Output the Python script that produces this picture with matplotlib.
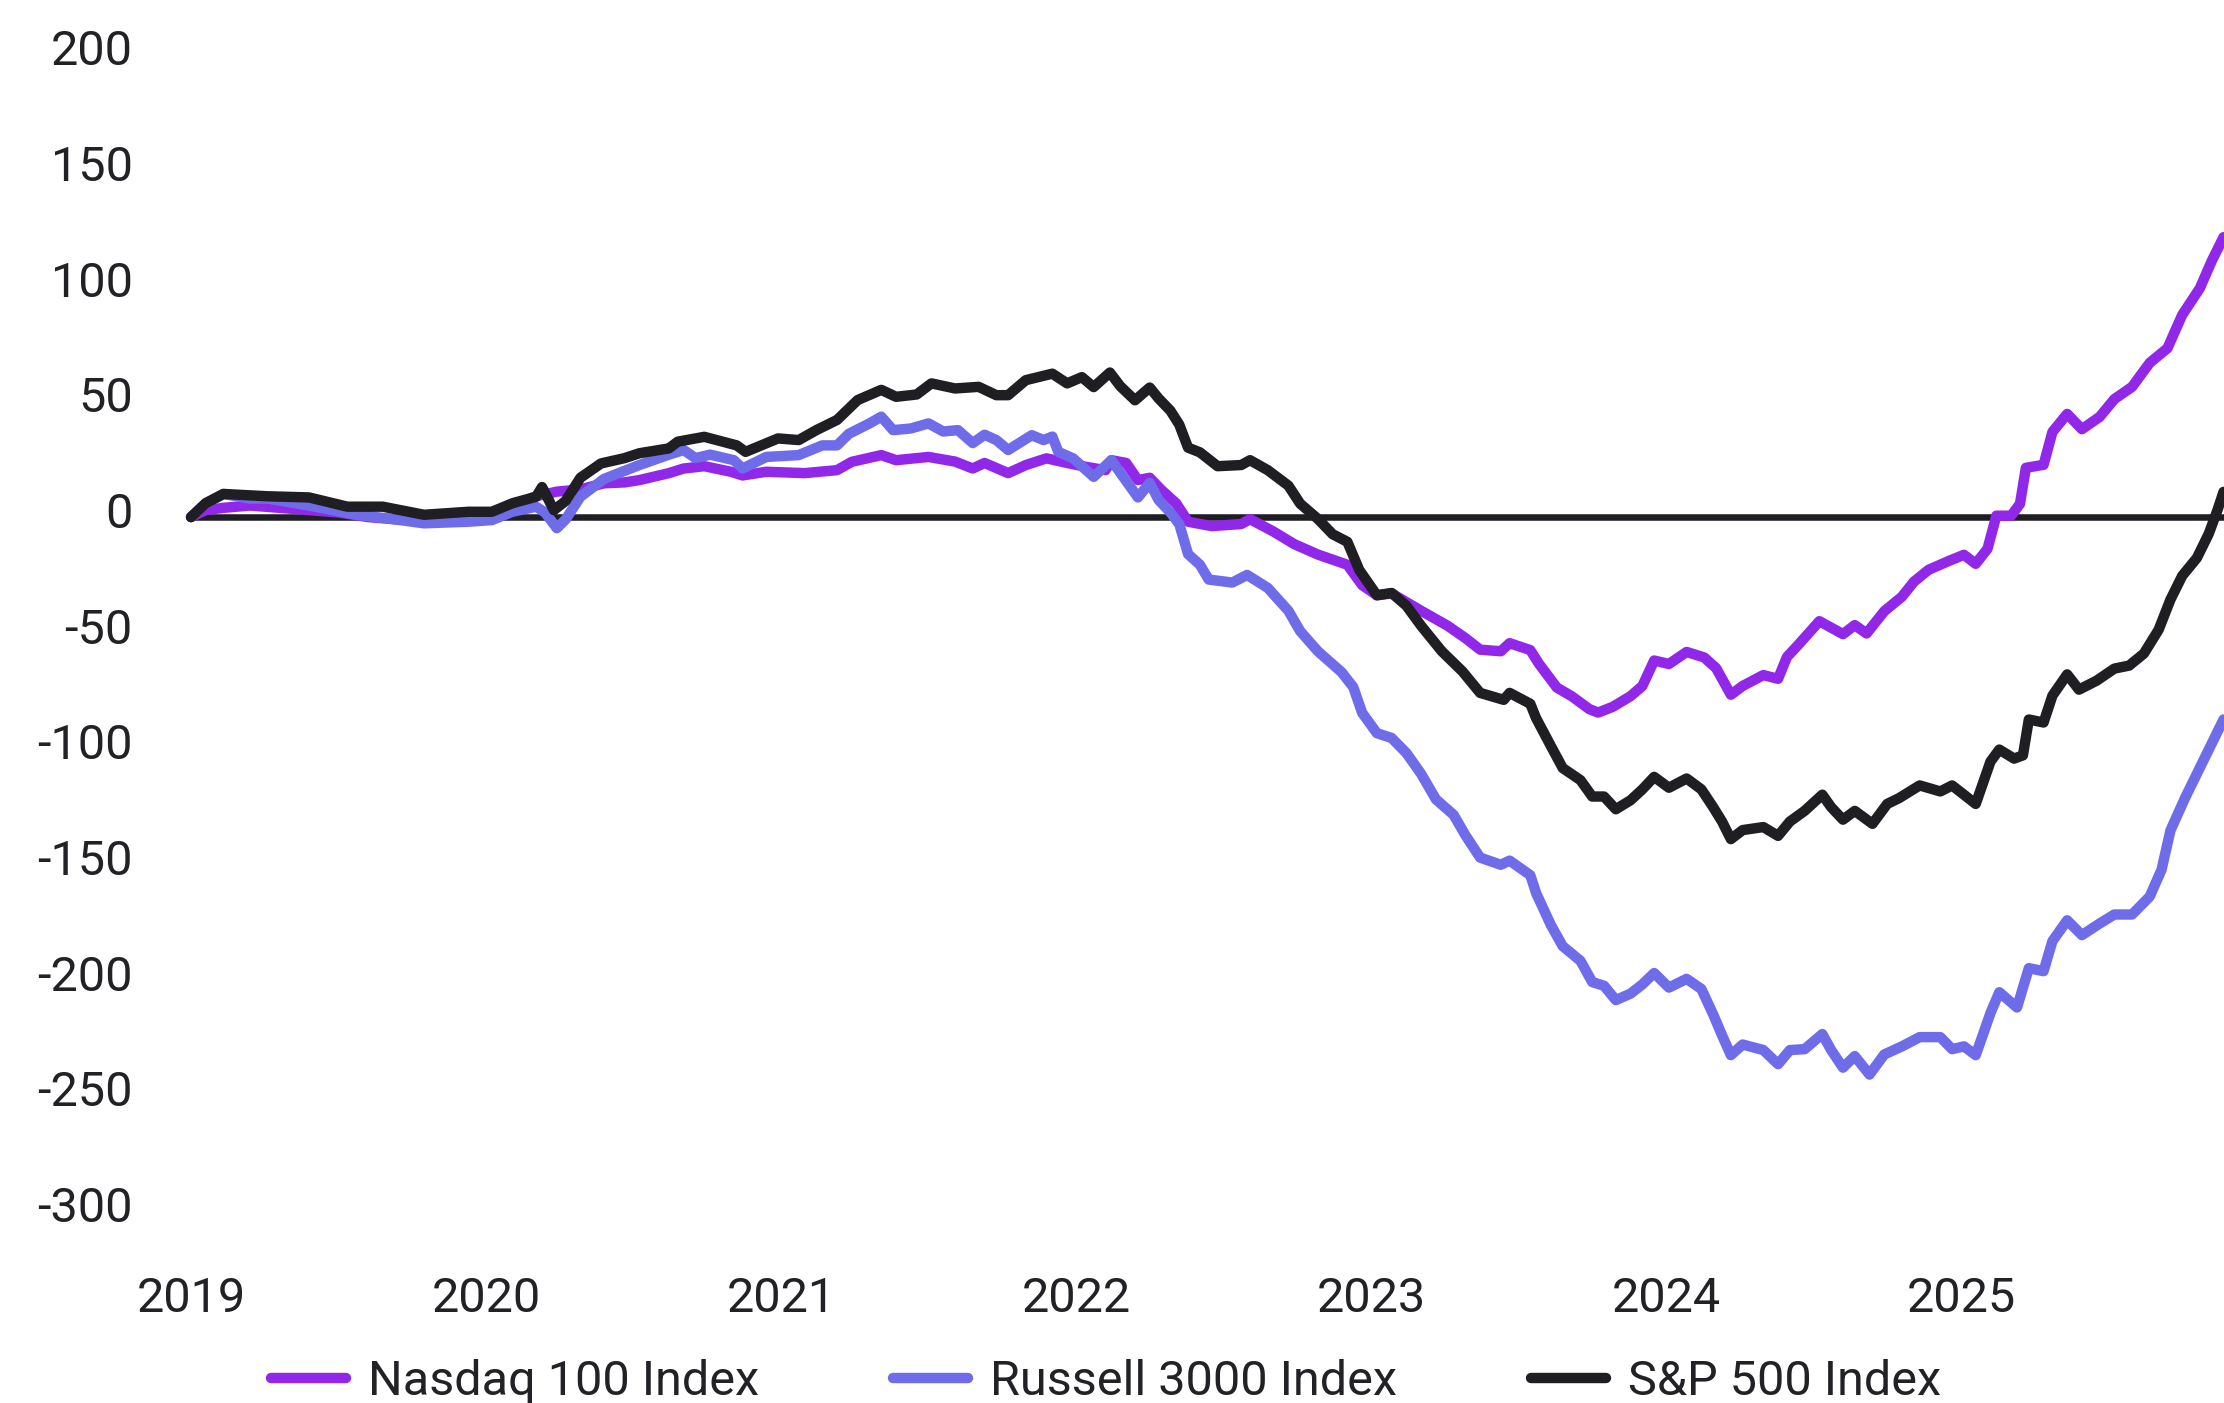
import matplotlib
matplotlib.use("Agg")
import matplotlib.pyplot as plt
import matplotlib.transforms as mtransforms

plt.rcParams['font.family'] = ['Roboto', 'DejaVu Sans']

# Nasdaq 100 Index
nasdaq_x = [2019.00, 2019.05, 2019.11, 2019.20, 2019.30, 2019.40, 2019.50, 2019.60, 2019.70, 2019.80,
            2019.90, 2020.00, 2020.09, 2020.17, 2020.24, 2020.32, 2020.40, 2020.47, 2020.52, 2020.62,
            2020.67, 2020.74, 2020.83, 2020.87, 2020.95, 2021.08, 2021.19, 2021.24, 2021.34, 2021.39,
            2021.50, 2021.59, 2021.65, 2021.69, 2021.77, 2021.83, 2021.90, 2021.97, 2022.03, 2022.10,
            2022.12, 2022.17, 2022.21, 2022.25, 2022.29, 2022.34, 2022.38, 2022.46, 2022.56, 2022.59,
            2022.67, 2022.74, 2022.82, 2022.92, 2022.97, 2023.02, 2023.07, 2023.17, 2023.26, 2023.32,
            2023.37, 2023.44, 2023.47, 2023.54, 2023.57, 2023.63, 2023.68, 2023.74, 2023.77, 2023.82,
            2023.88, 2023.92, 2023.96, 2024.01, 2024.07, 2024.13, 2024.17, 2024.22, 2024.26, 2024.33,
            2024.38, 2024.41, 2024.45, 2024.52, 2024.60, 2024.64, 2024.68, 2024.74, 2024.80, 2024.84,
            2024.89, 2024.96, 2025.01, 2025.05, 2025.09, 2025.12, 2025.17, 2025.20, 2025.22, 2025.28,
            2025.31, 2025.36, 2025.41, 2025.47, 2025.52, 2025.58, 2025.64, 2025.70, 2025.75, 2025.81,
            2025.85, 2025.89]
nasdaq_y = [0, 3, 4, 5, 4, 3, 2, 0, -1, -2,
            -1.5, 0, 5, 9, 11, 12, 14.6, 15, 16, 19,
            21, 22, 19.6, 18, 19.6, 19, 20.3, 23.9, 26.8, 24.6,
            26, 24, 21, 23.4, 19, 22.5, 25.4, 23.4, 21.8, 20.3,
            24.6, 23.4, 16, 17, 11.7, 5.9, -2, -3.9, -3, -0.9,
            -6.3, -11.7, -16.2, -20.6, -29.4, -33.8, -33, -40.5, -47, -52.3,
            -57.3, -58, -54.5, -57.5, -63.5, -73.7, -77.4, -83, -84.5, -82,
            -77.4, -73, -62, -63.5, -58.3, -60.7, -65.3, -76.8, -73, -68.3,
            -69.9, -60.5, -55, -45, -50.6, -46.7, -50.3, -40.7, -34.4, -28,
            -22.8, -18.9, -16.3, -20.2, -13.7, 0.6, 0.6, 5.7, 21.3, 22.6,
            36.8, 44.6, 38, 43.3, 51, 56.3, 66.7, 73, 87.4, 99,
            110.7, 121]

# Russell 3000 Index
russell_x = [2019.00, 2019.05, 2019.11, 2019.20, 2019.26, 2019.40, 2019.56, 2019.71, 2019.79, 2019.94,
             2020.02, 2020.09, 2020.17, 2020.20, 2020.24, 2020.27, 2020.32, 2020.40, 2020.52, 2020.62,
             2020.67, 2020.71, 2020.76, 2020.84, 2020.87, 2020.95, 2021.06, 2021.14, 2021.19, 2021.23,
             2021.30, 2021.34, 2021.38, 2021.44, 2021.50, 2021.55, 2021.60, 2021.65, 2021.69, 2021.73,
             2021.77, 2021.85, 2021.89, 2021.92, 2021.94, 2021.99, 2022.06, 2022.12, 2022.16, 2022.21,
             2022.25, 2022.28, 2022.32, 2022.35, 2022.38, 2022.42, 2022.45, 2022.53, 2022.58, 2022.65,
             2022.72, 2022.76, 2022.82, 2022.90, 2022.94, 2022.97, 2023.02, 2023.07, 2023.12, 2023.17,
             2023.22, 2023.28, 2023.32, 2023.37, 2023.44, 2023.47, 2023.54, 2023.56, 2023.61, 2023.65,
             2023.71, 2023.75, 2023.79, 2023.83, 2023.88, 2023.92, 2023.96, 2024.01, 2024.07, 2024.12,
             2024.16, 2024.19, 2024.22, 2024.26, 2024.33, 2024.38, 2024.42, 2024.47, 2024.53, 2024.56,
             2024.60, 2024.64, 2024.69, 2024.74, 2024.80, 2024.86, 2024.93, 2024.97, 2025.01, 2025.05,
             2025.10, 2025.13, 2025.19, 2025.23, 2025.28, 2025.31, 2025.36, 2025.41, 2025.47, 2025.52,
             2025.58, 2025.64, 2025.68, 2025.71, 2025.76, 2025.81, 2025.85, 2025.89]
russell_y = [0, 6, 10, 8, 8, 5, 1, -1.3, -2.7, -2,
             -1.3, 2.3, 4.5, 2, -4.8, -1, 8.8, 16.5, 22.5, 27,
             29, 25.5, 27, 24.6, 21, 26, 26.8, 31, 31, 36,
             40.5, 43.4, 37.6, 38.3, 40.5, 37, 37.6, 32, 35.6, 33.3,
             29, 35.4, 33.3, 34.8, 28.2, 25.4, 17.4, 24.6, 17.4, 8.5,
             14.8, 7.4, 2, -3, -16, -20.6, -27, -28.3, -25, -30.6,
             -40.5, -49.3, -58, -67, -73.5, -84.6, -93.4, -95.5, -102, -111,
             -122, -128.7, -137.5, -147.2, -150.3, -148.5, -154.8, -162.6, -176.4, -185.5,
             -191.8, -201, -202.6, -208.8, -206, -202, -197.1, -203.4, -199.6, -204,
             -215, -224, -232.6, -228, -230.4, -236.5, -230.4, -230, -223.5, -230.4,
             -238, -233, -241, -232.3, -228.8, -224.8, -224.8, -230, -228.8, -232.6,
             -214.4, -205.4, -212, -195, -196.3, -183.3, -174.3, -180.7, -175.7, -171.8,
             -171.8, -164, -152.4, -135.5, -121.3, -108.3, -98, -87.5]

# S&P 500 Index
sp500_x = [2019.00, 2019.05, 2019.11, 2019.26, 2019.40, 2019.53, 2019.65, 2019.79, 2019.94, 2020.02,
           2020.09, 2020.17, 2020.19, 2020.23, 2020.27, 2020.32, 2020.39, 2020.47, 2020.52, 2020.62,
           2020.65, 2020.74, 2020.85, 2020.88, 2020.99, 2021.06, 2021.12, 2021.19, 2021.26, 2021.34,
           2021.39, 2021.46, 2021.51, 2021.59, 2021.67, 2021.73, 2021.77, 2021.83, 2021.92, 2021.97,
           2022.02, 2022.06, 2022.115, 2022.15, 2022.20, 2022.25, 2022.28, 2022.32, 2022.35, 2022.38,
           2022.42, 2022.48, 2022.56, 2022.59, 2022.65, 2022.72, 2022.76, 2022.82, 2022.87, 2022.92,
           2022.96, 2023.02, 2023.07, 2023.12, 2023.17, 2023.24, 2023.31, 2023.37, 2023.45, 2023.47,
           2023.54, 2023.56, 2023.61, 2023.65, 2023.71, 2023.75, 2023.79, 2023.83, 2023.88, 2023.92,
           2023.96, 2024.01, 2024.07, 2024.12, 2024.16, 2024.19, 2024.22, 2024.26, 2024.33, 2024.38,
           2024.42, 2024.47, 2024.53, 2024.56, 2024.60, 2024.64, 2024.70, 2024.75, 2024.79, 2024.86,
           2024.93, 2024.97, 2025.01, 2025.05, 2025.10, 2025.13, 2025.18, 2025.21, 2025.23, 2025.28,
           2025.31, 2025.36, 2025.40, 2025.46, 2025.52, 2025.57, 2025.62, 2025.67, 2025.71, 2025.75,
           2025.80, 2025.84, 2025.87, 2025.89]
sp500_y = [0, 6, 10, 9, 8.5, 4.5, 4.5, 1, 2.3, 2.3,
           6, 8.8, 13, 3, 7, 17, 23.2, 25.5, 27.6, 29.7,
           32.6, 34.7, 31, 28.2, 34, 33.3, 37.6, 42, 50.6, 55,
           52, 53, 57.8, 55.6, 56.3, 52.7, 52.7, 59.2, 62, 57.8,
           60.5, 56.2, 62.5, 56.6, 50.5, 56, 51.3, 46, 40, 30,
           28, 22, 22.5, 24.6, 20.3, 13.6, 5.8, -0.8, -7.4, -10.7,
           -22.8, -33.8, -32.8, -38.3, -47, -58, -66.7, -76, -79, -76,
           -80.7, -87, -99, -108.5, -113.7, -120.8, -120.8, -126.3, -122.4, -117.7,
           -112.3, -117, -113, -117.7, -125.4, -131.6, -139.2, -135.3, -134, -137.8,
           -131.6, -127, -120, -125.4, -130.8, -127, -132.6, -124, -121.5, -116,
           -118.6, -116, -120, -124, -105.7, -100.5, -104.4, -103, -87.5, -88.8,
           -77.2, -68, -74.6, -70.7, -65.5, -64.2, -59, -48.7, -35.7, -25.4,
           -17.6, -7.2, 3.2, 10.9]

series_names = ["Nasdaq 100 Index", "Russell 3000 Index", "S&P 500 Index"]
series_colors = ["#9127E8", "#6E6CE9", "#1F1E23"]
year_ticks = [2019, 2020, 2021, 2022, 2023, 2024, 2025]
y_ticks = [200, 150, 100, 50, 0, -50, -100, -150, -200, -250, -300]

text_color = "#222226"
fs = 35

fig = plt.figure(figsize=(22.24, 14.03), dpi=100)
ax = fig.add_axes([191 / 2224, 0.1368, 0.9139, 0.8244])

ax.axhline(0, color="#1F1E23", lw=4.7, zorder=1)

xs = [nasdaq_x, russell_x, sp500_x]
ys = [nasdaq_y, russell_y, sp500_y]
for i in range(0, 3):
    ax.plot(xs[i], ys[i], color=series_colors[i], lw=7.5, label=series_names[i],
            solid_capstyle="round", solid_joinstyle="round", zorder=2 + i, clip_on=False)

ax.set_xlim(2019, 2025.89)
ax.set_ylim(-300, 200)
ax.set_xticks(year_ticks)
ax.set_xticklabels([str(y) for y in year_ticks])
ax.set_yticks(y_ticks)
ax.set_yticklabels([str(y) for y in y_ticks])
ax.tick_params(axis="both", length=0, labelsize=fs, labelcolor=text_color)
ax.tick_params(axis="y", pad=42)
ax.tick_params(axis="x", pad=47)
for s in ax.spines.values():
    s.set_visible(False)

# labels sit a few pixels above the grid value in the original
offset = mtransforms.ScaledTranslation(0, 7 / 100, fig.dpi_scale_trans)
for lab in ax.get_yticklabels():
    lab.set_transform(lab.get_transform() + offset)

leg = fig.legend(loc="center", bbox_to_anchor=(1106 / 2224, 1 - 1382 / 1403), ncol=3,
                 frameon=False, fontsize=fs, handlelength=1.55, handletextpad=0.45,
                 columnspacing=2.75, labelcolor=text_color)
for line in leg.get_lines():
    line.set_linewidth(7.5)
    line.set_solid_capstyle("round")

fig.savefig("out.png", dpi=100)
